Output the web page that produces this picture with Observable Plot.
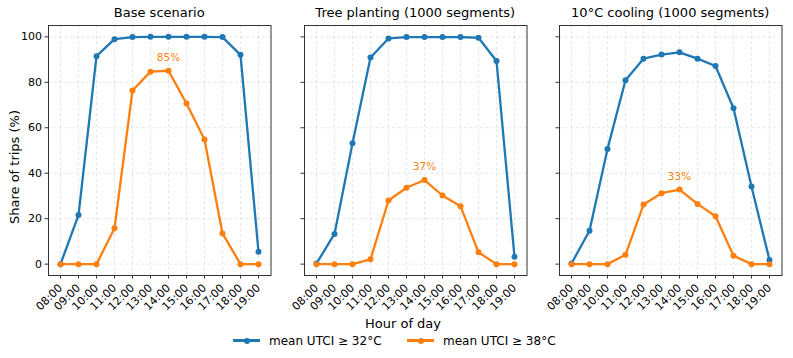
<!DOCTYPE html>
<html>
<head>
<meta charset="utf-8">
<script src="https://cdn.jsdelivr.net/npm/d3@7"></script>
<script src="https://cdn.jsdelivr.net/npm/@observablehq/plot@0.6"></script>
<style>
  body { margin: 0; background: #fff; font-family: "DejaVu Sans", sans-serif; }
  #wrap { position: relative; width: 793px; height: 358px; overflow: hidden; }
  .panel { position: absolute; top: 0; }
  .title { position: absolute; top: 4.5px; font-size: 13px; line-height: 15px; color: #000; text-align: center; width: 260px; white-space: nowrap; }
  .ylab { position: absolute; font-size: 13px; white-space: nowrap; transform: translate(-50%, -50%) rotate(-90deg); }
  .xlab { position: absolute; font-size: 13px; line-height: 15px; white-space: nowrap; transform: translate(-50%, 0); }
  .lgtext { position: absolute; font-size: 12px; line-height: 14px; white-space: nowrap; }
  .ln { position: absolute; height: 2.5px; width: 27px; }
  .dt { position: absolute; width: 6px; height: 6px; border-radius: 50%; }
</style>
</head>
<body>
<div id="wrap"></div>
<script>
const hours = ["08:00","09:00","10:00","11:00","12:00","13:00","14:00","15:00","16:00","17:00","18:00","19:00"];
const yTicks = [0, 20, 40, 60, 80, 100];
const panelTitles = ["Base scenario", "Tree planting (1000 segments)", "10°C cooling (1000 segments)"];
const seriesNames = ["mean UTCI ≥ 32°C", "mean UTCI ≥ 38°C"];
const seriesColors = ["#1f77b4", "#ff7f0e"];

const base32 = [0, 21.6, 91.5, 99.0, 99.9, 100, 100, 100, 100, 99.9, 92.1, 5.4];
const base38 = [0, 0, 0, 15.8, 76.4, 84.7, 85.1, 70.7, 54.8, 13.5, 0, 0];
const tree32 = [0.3, 13.3, 53.2, 90.9, 99.3, 99.9, 99.9, 99.9, 99.9, 99.6, 89.4, 3.2];
const tree38 = [0, 0, 0, 2.1, 28.0, 33.6, 37.0, 30.2, 25.5, 5.2, 0, 0];
const cool32 = [0.3, 14.7, 50.7, 80.9, 90.4, 92.2, 93.2, 90.4, 87.2, 68.6, 34.2, 1.8];
const cool38 = [0, 0, 0, 4.1, 26.2, 31.2, 32.8, 26.5, 21.1, 3.7, 0, 0];
const peakLabels = ["85%", "37%", "33%"];

const panels = [[base32, base38], [tree32, tree38], [cool32, cool38]];
const frameLefts = [48, 304, 559];
const frameW = 222.5;
const mL = 40, mR = 18;

const wrap = document.getElementById("wrap");

panels.forEach((pair, p) => {
  const rows = [];
  pair.forEach((vals, s) => vals.forEach((v, i) => rows.push({hour: hours[i], value: v, series: seriesNames[s]})));
  const peak = rows.filter(d => d.series === seriesNames[1]).reduce((a, b) => b.value > a.value ? b : a);
  const chart = Plot.plot({
    width: mL + frameW + mR,
    height: 318,
    marginLeft: mL, marginRight: mR, marginTop: 25, marginBottom: 43,
    style: {fontFamily: "DejaVu Sans", fontSize: "11px", background: "transparent", color: "#000"},
    x: {type: "point", domain: hours, padding: 0.55, label: null},
    y: {domain: [-5, 105], label: null},
    color: {domain: seriesNames, range: seriesColors},
    marks: [
      Plot.gridX(hours, {stroke: "#b0b0b0", strokeOpacity: 0.4, strokeDasharray: "3,2.5", strokeWidth: 0.8}),
      Plot.gridY(yTicks, {stroke: "#b0b0b0", strokeOpacity: 0.4, strokeDasharray: "3,2.5", strokeWidth: 0.8}),
      Plot.axisX({tickRotate: -45, tickSize: 3.5, tickPadding: 7, label: null, stroke: "#333"}),
      Plot.axisY({ticks: yTicks, tickSize: 3.5, tickPadding: 3, label: null, stroke: "#333",
                  tickFormat: p === 0 ? (d => String(d)) : (() => "")}),
      Plot.frame({stroke: "#333", strokeWidth: 1}),
      Plot.line(rows, {x: "hour", y: "value", z: "series", stroke: "series", strokeWidth: 2.3}),
      Plot.dot(rows, {x: "hour", y: "value", fill: "series", r: 3}),
      Plot.text([peak], {x: "hour", y: "value", text: () => peakLabels[p], dy: -13, fill: seriesColors[1], fontSize: 10.5})
    ]
  });
  chart.classList.add("panel");
  chart.style.left = (frameLefts[p] - mL) + "px";
  wrap.appendChild(chart);

  const t = document.createElement("div");
  t.className = "title";
  t.textContent = panelTitles[p];
  t.style.left = (frameLefts[p] + frameW / 2 - 130) + "px";
  wrap.appendChild(t);
});

const yl = document.createElement("div");
yl.className = "ylab";
yl.textContent = "Share of trips (%)";
yl.style.left = "14px"; yl.style.top = "167px";
wrap.appendChild(yl);

const xl = document.createElement("div");
xl.className = "xlab";
xl.textContent = "Hour of day";
xl.style.left = "403px"; xl.style.top = "316px";
wrap.appendChild(xl);

// legend
const lgSwatchX = [233, 407];
const lgTextX = [269, 443];
const lgY = 340.7;
seriesNames.forEach((n, i) => {
  const ln = document.createElement("div"); ln.className = "ln";
  ln.style.background = seriesColors[i];
  ln.style.left = lgSwatchX[i] + "px"; ln.style.top = (lgY - 1.25) + "px";
  const dt = document.createElement("div"); dt.className = "dt";
  dt.style.background = seriesColors[i];
  dt.style.left = (lgSwatchX[i] + 13.5 - 3) + "px"; dt.style.top = (lgY - 3) + "px";
  const tx = document.createElement("div"); tx.className = "lgtext";
  tx.textContent = n;
  tx.style.left = lgTextX[i] + "px"; tx.style.top = (lgY - 7) + "px";
  wrap.appendChild(ln); wrap.appendChild(dt); wrap.appendChild(tx);
});
</script>
</body>
</html>
